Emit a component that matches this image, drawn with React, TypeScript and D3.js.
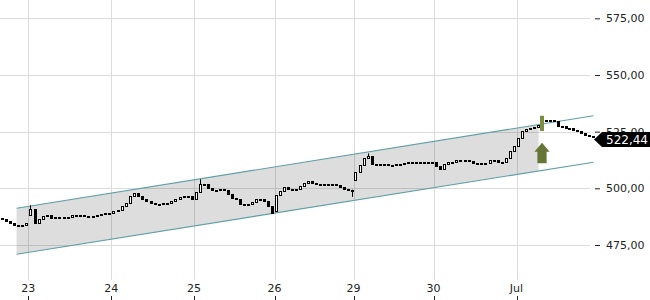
import React, { useEffect, useRef } from "react";
import * as d3 from "d3";

// session labels on the time axis (each session = 20 candles)
const dayLabels = ["23", "24", "25", "26", "29", "30", "Jul"];
const perDay = 20;

// tail of the previous session
const preOpen = 486.8;
const preCloses = [486.5, 485.6, 484.7, 483.8, 483.6, 483.8, 484.7];

// first open of each session
const dayOpens = [488.2, 488.9, 495.5, 490.0, 503.7, 511.7, 518.7];

// closes per session
const closes23 = [490.7, 484.6, 486.4, 487.8, 488.2, 486.9, 487.3, 487.1, 487.3, 487.5, 488.2, 488.4, 488.4, 488.0, 487.5, 488.0, 488.4, 488.7, 489.0, 488.9];
const closes24 = [489.9, 490.6, 492.2, 493.7, 496.4, 497.9, 496.6, 495.3, 494.2, 493.5, 493.3, 493.3, 493.4, 493.7, 494.4, 495.3, 496.0, 496.6, 496.4, 495.5];
const closes25 = [498.4, 501.7, 502.1, 500.1, 499.3, 499.3, 499.7, 499.3, 497.3, 495.9, 495.5, 493.3, 493.1, 493.3, 494.0, 495.5, 495.3, 494.4, 492.2, 489.3];
const closes26 = [497.0, 498.8, 500.4, 499.9, 499.7, 499.9, 501.0, 502.3, 503.2, 502.3, 502.1, 502.1, 501.9, 502.1, 501.9, 501.5, 500.7, 499.9, 499.4, 498.8];
const closes29 = [507.2, 510.3, 513.4, 514.2, 510.7, 510.9, 510.9, 510.7, 510.5, 510.3, 510.7, 510.9, 511.2, 511.4, 511.6, 511.8, 511.6, 511.4, 511.2, 511.7];
const closes30 = [509.8, 508.7, 510.9, 511.4, 511.8, 512.7, 512.5, 512.5, 512.0, 511.2, 510.9, 511.0, 511.3, 512.3, 512.3, 511.8, 511.5, 513.4, 516.5, 518.7];
const closesJul = [522.2, 525.3, 526.2, 526.4, 527.0, 527.9, 529.7, 530.1, 530.3, 529.7, 527.7, 527.3, 526.8, 526.4, 525.9, 525.5, 524.6, 523.5, 522.9, 522.44];

// candles with visible wicks: index, high, low
const wickIndex = [0, 41, 79, 83];
const wickHigh = [492.5, 504.0, 499.4, 515.4];
const wickLow = [488.2, 498.4, 496.2, 513.4];

// trend channel (start / end)
const channelIndex = [-2.9, 139.6];
const channelUpper = [491.2, 532.0];
const channelLower = [470.9, 511.5];

// buy signal
const signalIndex = 126;
const signalHigh = 532.0;
const signalLow = 525.3;
const arrowTop = 520.1;

const yTicks = [475, 500, 525, 550, 575];
const lastPrice = 522.44;

const fmt = d3.formatLocale({ decimal: ",", thousands: ".", grouping: [3], currency: ["", ""] }).format(".2f");

const App = () => {
  const svgRef = useRef<SVGSVGElement | null>(null);

  useEffect(() => {
    const width = 650;
    const height = 300;
    const plotRight = 590;

    const svg = d3.select(svgRef.current);
    svg.selectAll("*").remove();
    svg.attr("width", width).attr("height", height);

    const sessions = [closes23, closes24, closes25, closes26, closes29, closes30, closesJul];

    const candles: { i: number; o: number; c: number }[] = [];
    let prev = preOpen;
    preCloses.forEach((c, k) => {
      candles.push({ i: k - preCloses.length, o: prev, c });
      prev = c;
    });
    sessions.forEach((arr, d) => {
      prev = dayOpens[d];
      arr.forEach((c, k) => {
        candles.push({ i: d * perDay + k, o: prev, c });
        prev = c;
      });
    });

    const dayStarts = dayLabels.map((_, d) => d * perDay);

    // sessions are not all the same width on screen
    const x = d3
      .scaleLinear()
      .domain([-7, 0, 20, 40, 60, 80, 100, 120, 140])
      .range([0, 28.3, 111.3, 194, 274.5, 353.5, 433.5, 516.5, 595]);

    const y = d3.scaleLinear().domain([475, 575]).range([245, 18.3]);

    // grid
    svg
      .append("g")
      .selectAll("line")
      .data(yTicks)
      .join("line")
      .attr("x1", 0)
      .attr("x2", plotRight)
      .attr("y1", (d) => Math.round(y(d)) + 0.5)
      .attr("y2", (d) => Math.round(y(d)) + 0.5)
      .attr("stroke", "#dcdcdc");

    svg
      .append("g")
      .selectAll("line")
      .data(dayStarts)
      .join("line")
      .attr("x1", (d) => Math.round(x(d)) + 0.5)
      .attr("x2", (d) => Math.round(x(d)) + 0.5)
      .attr("y1", 0)
      .attr("y2", 280)
      .attr("stroke", "#dcdcdc");

    // channel
    const p0 = [x(channelIndex[0]), y(channelUpper[0]), y(channelLower[0])];
    const p1 = [x(channelIndex[1]), y(channelUpper[1]), y(channelLower[1])];
    const fillEnd = x(signalIndex) - 1.5;
    const t = (fillEnd - p0[0]) / (p1[0] - p0[0]);
    const upAt = p0[1] + (p1[1] - p0[1]) * t;
    const loAt = p0[2] + (p1[2] - p0[2]) * t;

    svg
      .append("polygon")
      .attr("points", `${p0[0]},${p0[1]} ${fillEnd},${upAt} ${fillEnd},${loAt} ${p0[0]},${p0[2]}`)
      .attr("fill", "#000")
      .attr("fill-opacity", 0.135);

    [channelUpper, channelLower].forEach((line) => {
      svg
        .append("line")
        .attr("x1", x(channelIndex[0]))
        .attr("x2", x(channelIndex[1]))
        .attr("y1", y(line[0]))
        .attr("y2", y(line[1]))
        .attr("stroke", "#5e9fa6")
        .attr("stroke-width", 1.1);
    });

    // wicks
    svg
      .append("g")
      .selectAll("line")
      .data(wickIndex.map((idx, k) => ({ idx, h: wickHigh[k], l: wickLow[k] })))
      .join("line")
      .attr("x1", (d) => Math.round(x(d.idx + 0.5)) + 0.5)
      .attr("x2", (d) => Math.round(x(d.idx + 0.5)) + 0.5)
      .attr("y1", (d) => y(d.h))
      .attr("y2", (d) => y(d.l))
      .attr("stroke", "#000");

    // candles
    svg
      .append("g")
      .attr("shape-rendering", "crispEdges")
      .selectAll("rect")
      .data(candles)
      .join("rect")
      .attr("x", (d) => Math.round(x(d.i + 0.5)) - 1 + 0.5)
      .attr("width", 2)
      .attr("y", (d) => Math.round(y(Math.max(d.o, d.c))) + 0.5)
      .attr("height", (d) =>
        Math.max(1, Math.round(y(Math.min(d.o, d.c))) - Math.round(y(Math.max(d.o, d.c))))
      )
      .attr("fill", (d) => (d.c >= d.o ? "#fff" : "#000"))
      .attr("stroke", "#000")
      .attr("stroke-width", 1);

    // signal candle + arrow
    const sx = x(signalIndex + 0.5);
    svg
      .append("rect")
      .attr("x", sx - 2)
      .attr("width", 4)
      .attr("y", y(signalHigh))
      .attr("height", y(signalLow) - y(signalHigh))
      .attr("fill", "#7a8e40");

    const at = y(arrowTop);
    svg
      .append("polygon")
      .attr(
        "points",
        [
          [sx, at],
          [sx + 7.6, at + 9],
          [sx + 4.6, at + 9],
          [sx + 4.6, at + 20.5],
          [sx - 4.6, at + 20.5],
          [sx - 4.6, at + 9],
          [sx - 7.6, at + 9],
        ]
          .map((p) => p.join(","))
          .join(" ")
      )
      .attr("fill", "#657636");

    // right axis
    const yAxis = svg
      .append("g")
      .attr("transform", `translate(595,0)`)
      .call(d3.axisRight(y).tickValues(yTicks).tickSize(5).tickPadding(6).tickFormat((d) => fmt(d as number)));
    yAxis.select(".domain").remove();
    yAxis.selectAll("line").attr("stroke", "#222");
    yAxis
      .selectAll("text")
      .attr("fill", "#222")
      .style("font-family", "DejaVu Sans")
      .style("font-size", "11px");

    // bottom labels
    const xl = svg.append("g");
    dayStarts.forEach((d, k) => {
      xl.append("text")
        .attr("x", x(d))
        .attr("y", 292)
        .attr("text-anchor", "middle")
        .attr("fill", "#222")
        .style("font-family", "DejaVu Sans")
        .style("font-size", "11px")
        .text(dayLabels[k]);
      xl.append("line")
        .attr("x1", Math.round(x(d)) + 0.5)
        .attr("x2", Math.round(x(d)) + 0.5)
        .attr("y1", 296)
        .attr("y2", 300)
        .attr("stroke", "#222");
    });

    // last price tag
    const py = y(lastPrice) + 2;
    svg
      .append("polygon")
      .attr("points", `594,${py} 602,${py - 7.5} 650,${py - 7.5} 650,${py + 7.5} 602,${py + 7.5}`)
      .attr("fill", "#000");
    svg
      .append("text")
      .attr("x", 606)
      .attr("y", py + 4.5)
      .attr("fill", "#fff")
      .style("font-family", "DejaVu Sans")
      .style("font-size", "12px")
      .text(fmt(lastPrice));
  }, []);

  return <svg ref={svgRef} style={{ position: "absolute", left: 0, top: 0, background: "#fff" }} />;
};

export default App;
